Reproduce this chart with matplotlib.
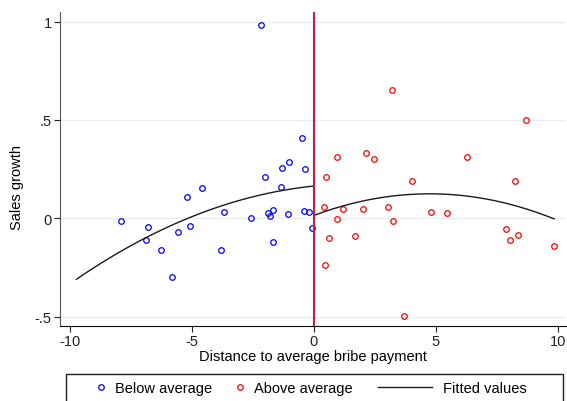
import matplotlib
matplotlib.use("Agg")
import matplotlib.pyplot as plt
import numpy as np
from matplotlib.patches import Rectangle

plt.rcParams['font.family'] = ['Liberation Sans', 'DejaVu Sans']

# firms below the average bribe payment
below_x = [-7.91, -6.80, -6.90, -6.27, -5.81, -5.57, -5.22, -5.07, -4.60, -3.80,
           -3.70, -2.57, -2.17, -2.01, -1.87, -1.80, -1.66, -1.66, -1.34, -1.31,
           -1.07, -1.01, -0.49, -0.39, -0.35, -0.20, -0.07]
below_y = [-0.012, -0.043, -0.112, -0.159, -0.300, -0.068, 0.107, -0.039, 0.154, -0.163,
           0.032, 0.000, 0.983, 0.208, 0.027, 0.012, 0.041, -0.122, 0.160, 0.254,
           0.020, 0.286, 0.406, 0.037, 0.250, 0.032, -0.048]

# firms above the average bribe payment
above_x = [3.21, 8.69, 0.955, 2.14, 2.46, 6.27, 0.50, 4.02, 8.24, 0.41,
           1.20, 2.01, 3.02, 0.93, 3.24, 4.82, 5.44, 0.63, 1.68, 7.87,
           8.36, 8.02, 9.85, 0.44, 3.68]
above_y = [0.651, 0.500, 0.311, 0.333, 0.303, 0.310, 0.211, 0.189, 0.189, 0.057,
           0.046, 0.049, 0.059, -0.002, -0.014, 0.032, 0.027, -0.098, -0.091, -0.056,
           -0.083, -0.109, -0.142, -0.235, -0.496]

fit_left_range = (-9.74, 0.0)
fit_right_range = (0.0, 9.85)

xticks = [-10, -5, 0, 5, 10]
xtick_labels = ["-10", "-5", "0", "5", "10"]
yticks = [-0.5, 0, 0.5, 1]
ytick_labels = ["-.5", "0", ".5", "1"]

# quadratic fits on each side of the cutoff
cl = np.polyfit(below_x, below_y, 2)
cr = np.polyfit(above_x, above_y, 2)
gl = np.linspace(*fit_left_range, 100)
gr = np.linspace(*fit_right_range, 100)
fit_x = np.concatenate([gl, gr])
fit_y = np.concatenate([np.polyval(cl, gl), np.polyval(cr, gr)])

fig = plt.figure(figsize=(5.67, 4.02), dpi=100)
ax = fig.add_axes([0.1058, 0.1873, 0.8922, 0.7807])

for y in yticks:
    ax.axhline(y, color='#e6eef1', lw=1, zorder=0)

ax.plot(below_x, below_y, 'o', mfc='none', mec='blue', ms=4, mew=0.9, label="Below average")
ax.plot(above_x, above_y, 'o', mfc='none', mec='red', ms=4, mew=0.9, label="Above average")
ax.plot(fit_x, fit_y, color='#1a1a1a', lw=1, label="Fitted values")
ax.axvline(0, color='#c81e46', lw=1.5)

ax.set_xlim(-10.41, 10.33)
ax.set_ylim(-0.545, 1.049)
ax.set_xticks(xticks, xtick_labels)
ax.set_yticks(yticks, ytick_labels)
ax.tick_params(labelsize=10.5, length=4, width=0.8, colors='#222222', pad=2)
for s in ['top', 'right']:
    ax.spines[s].set_visible(False)
ax.spines['left'].set_color('#555555')
ax.spines['bottom'].set_color('#111111')
ax.set_xlabel("Distance to average bribe payment", fontsize=10.5, labelpad=1)
ax.set_ylabel("Sales growth", fontsize=10.5)
ax.yaxis.set_label_coords(-0.072, 0.445)

# legend box below the plot
fig.add_artist(Rectangle((0.1159, -0.05), 0.877, 0.117, transform=fig.transFigure,
                         fill=False, edgecolor='#222222', lw=1))
h, lab = ax.get_legend_handles_labels()
for handle, text, x0, hl in zip(h, lab, [0.173, 0.418, 0.667], [0.4, 0.4, 3.7]):
    fig.legend([handle], [text], loc='center left', bbox_to_anchor=(x0, 0.032),
               frameon=False, fontsize=10.5, handlelength=hl, handletextpad=0.75,
               borderpad=0, borderaxespad=0)

fig.savefig("out.png", dpi=100)
